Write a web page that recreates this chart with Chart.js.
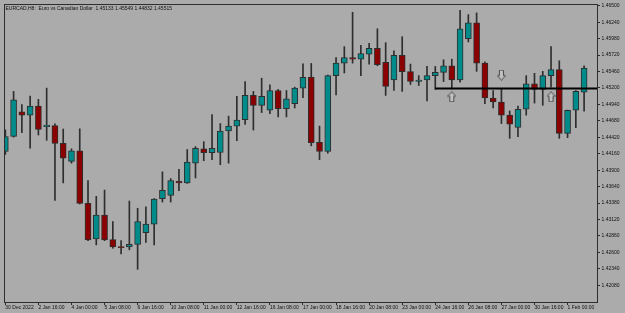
<!DOCTYPE html>
<html>
<head>
<meta charset="utf-8">
<script src="https://cdn.jsdelivr.net/npm/chart.js@4"></script>
<style>
  html, body { margin: 0; padding: 0; background: #ababab; }
  canvas { display: block; }
</style>
</head>
<body>
<canvas id="chart" width="625" height="313"></canvas>
<script>
// ---- EURCAD H8 data, one entry per bar ----
const opens  = [1.44195,1.44434,1.44821,1.44769,1.44914,1.44586,1.44606,1.44324,1.44038,1.44206,
                1.43376,1.42813,1.43189,1.42802,1.42692,1.42688,1.42728,1.42912,1.43047,1.43448,
                1.43502,1.43725,1.43698,1.44011,1.44237,1.44175,1.44179,1.44519,1.44597,1.44700,
                1.45082,1.44925,1.44847,1.45160,1.44872,1.44951,1.45196,1.45373,1.44340,1.44195,
                1.45395,1.45592,1.45681,1.45655,1.45733,1.45827,1.45603,1.45326,1.45717,1.45458,
                1.45301,1.45326,1.45395,1.45447,1.45551,1.45326,1.45979,1.46229,1.45592,1.45040,
                1.44977,1.44769,1.44575,1.44863,1.45263,1.45176,1.45395,1.45489,1.44481,1.44847,
                1.45133];
const highs  = [1.44539,1.45145,1.44935,1.45071,1.45019,1.45197,1.44633,1.44550,1.44237,1.44554,
                1.43736,1.43486,1.43585,1.43088,1.42786,1.43412,1.43298,1.43319,1.43451,1.43874,
                1.43767,1.43913,1.44226,1.44273,1.44351,1.44779,1.44637,1.44754,1.45067,1.45301,
                1.45145,1.45353,1.45248,1.45176,1.45160,1.45212,1.45580,1.45587,1.44597,1.45404,
                1.45681,1.45853,1.46396,1.45874,1.45905,1.46135,1.45916,1.45786,1.46010,1.45577,
                1.45395,1.45540,1.45540,1.45645,1.45655,1.46428,1.46359,1.46386,1.45614,1.45160,
                1.45176,1.44836,1.44914,1.45395,1.45431,1.45462,1.45853,1.45630,1.44850,1.45160,
                1.45549];
const lows   = [1.44148,1.44422,1.44492,1.44246,1.44456,1.44372,1.43423,1.43699,1.44011,1.43365,
                1.42786,1.42719,1.42786,1.42666,1.42578,1.42641,1.42333,1.42759,1.42719,1.43396,
                1.43396,1.43574,1.43690,1.43777,1.44049,1.44065,1.43986,1.44011,1.44367,1.44622,
                1.44534,1.44810,1.44794,1.44742,1.44742,1.44883,1.45048,1.44284,1.44065,1.44168,
                1.45091,1.45436,1.45592,1.45395,1.45577,1.45551,1.45082,1.45160,1.45145,1.45254,
                1.45238,1.44993,1.45176,1.45301,1.45185,1.45290,1.45927,1.45462,1.44951,1.44883,
                1.44637,1.44403,1.44429,1.44769,1.44961,1.44925,1.45212,1.44403,1.44414,1.44570,
                1.44832];
const closes = [1.44429,1.45013,1.44769,1.44914,1.44544,1.44612,1.44324,1.44090,1.44206,1.43376,
                1.42797,1.43189,1.42797,1.42688,1.42676,1.42728,1.43088,1.43047,1.43443,1.43580,
                1.43736,1.43698,1.44027,1.44246,1.44175,1.44246,1.44519,1.44597,1.44691,1.45082,
                1.44925,1.45067,1.45160,1.44872,1.45029,1.45196,1.45368,1.44336,1.44195,1.45395,
                1.45592,1.45681,1.45655,1.45744,1.45827,1.45567,1.45223,1.45717,1.45458,1.45301,
                1.45326,1.45395,1.45447,1.45551,1.45326,1.46135,1.46229,1.45592,1.45044,1.44977,
                1.44769,1.44628,1.44863,1.45263,1.45176,1.45395,1.45489,1.44481,1.44847,1.45145,
                1.45515];

// time labels, one every 4 bars
const timeLabels = ['30 Dec 2022','2 Jan 16:00','4 Jan 00:00','5 Jan 08:00','6 Jan 16:00',
                    '10 Jan 08:00','11 Jan 00:00','12 Jan 16:00','16 Jan 08:00','17 Jan 00:00',
                    '18 Jan 16:00','20 Jan 08:00','23 Jan 00:00','24 Jan 16:00','26 Jan 08:00',
                    '27 Jan 00:00','30 Jan 16:00','1 Feb 00:00'];
const labelEvery = 4;

// price ticks
const priceTicks = ['1.42080','1.42340','1.42600','1.42860','1.43120','1.43380','1.43640','1.43900',
                    '1.44160','1.44420','1.44680','1.44940','1.45200','1.45460','1.45720','1.45980',
                    '1.46240','1.46500'];

// objects on the chart
const levelStartBar = 52;
const levelPrice = 1.45190;
const arrowUpBars = [54, 66];
const arrowUpPrices = [1.45060, 1.45060];
const arrowDownBars = [60];
const arrowDownPrices = [1.45403];

const title = 'EURCAD,H8:  Euro vs Canadian Dollar  1.45133 1.45549 1.44832 1.45515';

// ---- colours ----
const BULL = '#008b8b';
const BEAR = '#8b0000';
const EDGE = '#2e2e2e';

// ---- arrow icons ----
function makeArrow(up) {
    const c = document.createElement('canvas');
    c.width = 9; c.height = 11;
    const g = c.getContext('2d');
    if (!up) { g.translate(0, 11); g.scale(1, -1); }
    g.beginPath();
    g.moveTo(4.5, 0.5);
    g.lineTo(8.5, 5);
    g.lineTo(6.5, 5);
    g.lineTo(6.5, 10.5);
    g.lineTo(2.5, 10.5);
    g.lineTo(2.5, 5);
    g.lineTo(0.5, 5);
    g.closePath();
    g.fillStyle = '#c2c2c2';
    g.fill();
    g.strokeStyle = '#4a4a4a';
    g.lineWidth = 1;
    g.stroke();
    return c;
}
const arrowUp = makeArrow(true);
const arrowDown = makeArrow(false);

// ---- frame + header ----
const framePlugin = {
    id: 'frame',
    afterDraw(chart) {
        const { ctx, chartArea: a } = chart;
        ctx.save();
        ctx.strokeStyle = EDGE;
        ctx.lineWidth = 1;
        ctx.strokeRect(a.left - 0.5, a.top - 0.5, a.right - a.left + 1, a.bottom - a.top + 1);
        ctx.fillStyle = '#111';
        ctx.font = '5px "Liberation Sans"';
        ctx.textBaseline = 'middle';
        ctx.fillText(title, a.left + 0.5, a.top + 3.5);
        ctx.restore();
    }
};

Chart.defaults.font.family = '"Liberation Sans", Arial, sans-serif';
Chart.defaults.font.size = 5;
Chart.defaults.color = '#111';

const bars = opens.map((o, i) => i);

new Chart(document.getElementById('chart'), {
    data: {
        datasets: [
            {
                type: 'line',
                data: [{ x: levelStartBar, y: levelPrice }, { x: 80, y: levelPrice }],
                borderColor: '#000',
                borderWidth: 2,
                pointRadius: 0,
                order: 0
            },
            {
                type: 'scatter',
                data: arrowUpBars.map((b, i) => ({ x: b, y: arrowUpPrices[i] })),
                pointStyle: arrowUp,
                order: 0
            },
            {
                type: 'scatter',
                data: arrowDownBars.map((b, i) => ({ x: b, y: arrowDownPrices[i] })),
                pointStyle: arrowDown,
                order: 0
            },
            {
                type: 'bar',
                data: bars.map(i => ({ x: i, y: [opens[i], closes[i]] })),
                backgroundColor: bars.map(i => closes[i] >= opens[i] ? BULL : BEAR),
                borderColor: EDGE,
                borderWidth: 1,
                borderSkipped: false,
                barThickness: 6,
                grouped: false,
                order: 1
            },
            {
                type: 'bar',
                data: bars.map(i => ({ x: i, y: [lows[i], highs[i]] })),
                backgroundColor: EDGE,
                borderWidth: 0,
                barThickness: 1,
                grouped: false,
                order: 2
            }
        ]
    },
    options: {
        responsive: false,
        animation: false,
        clip: 0,
        layout: { padding: { left: 2, top: 2, right: 0, bottom: 0 } },
        plugins: { legend: { display: false }, tooltip: { enabled: false } },
        scales: {
            x: {
                type: 'linear',
                offset: false,
                min: -0.04,
                max: 71.56,
                afterBuildTicks: s => { s.ticks = timeLabels.map((t, i) => ({ value: i * labelEvery })); },
                afterFit: s => { s.height = 11; s.paddingLeft = 0; s.paddingRight = 0; },
                grid: { offset: false, drawOnChartArea: false, drawTicks: true, tickLength: 3, color: EDGE },
                border: { display: false },
                ticks: {
                    autoSkip: false,
                    maxRotation: 0,
                    align: 'start',
                    padding: 0,
                    callback: (v, i) => timeLabels[i]
                }
            },
            y: {
                type: 'linear',
                position: 'right',
                offset: false,
                min: 1.41816,
                max: 1.46511,
                afterBuildTicks: s => { s.ticks = priceTicks.map(t => ({ value: parseFloat(t) })); },
                afterFit: s => { s.width = 28; s.paddingTop = 0; s.paddingBottom = 0; },
                grid: { drawOnChartArea: false, drawTicks: true, tickLength: 3, color: EDGE },
                border: { display: false },
                ticks: {
                    padding: 1.5,
                    callback: (v, i) => priceTicks[i]
                }
            }
        }
    },
    plugins: [framePlugin]
});
</script>
</body>
</html>
